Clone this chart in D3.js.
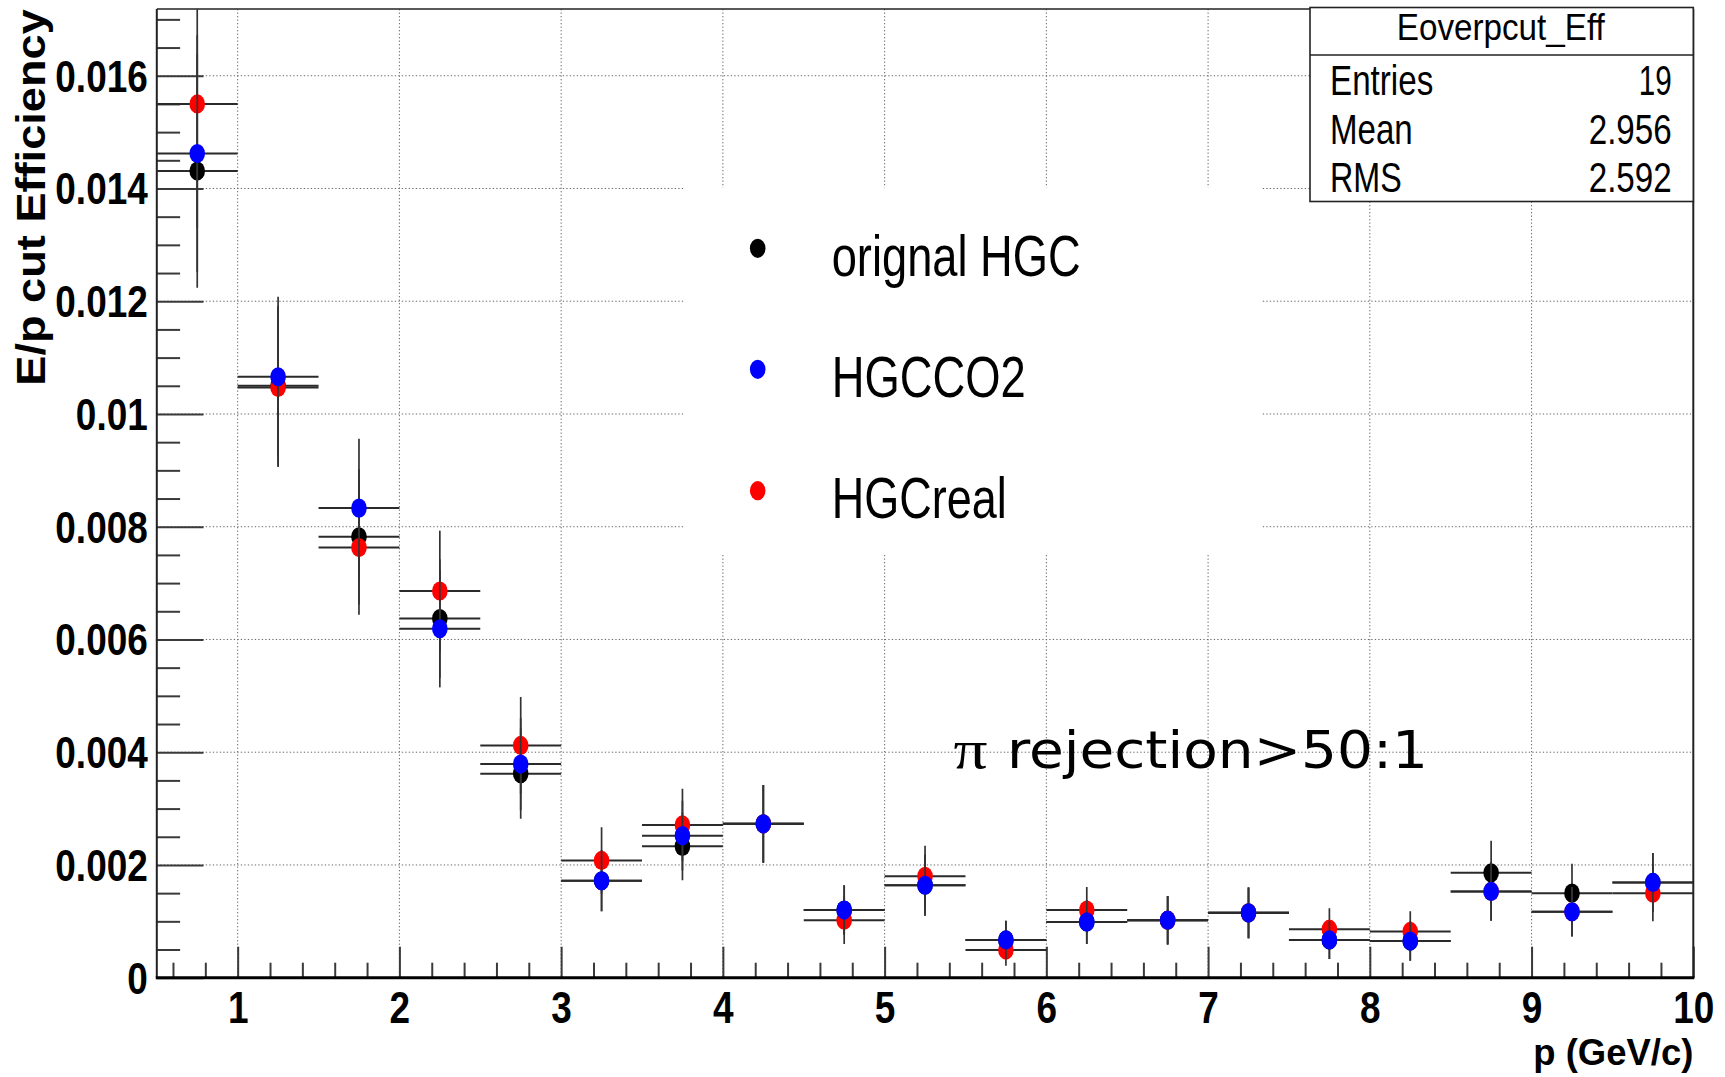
<!DOCTYPE html>
<html><head><meta charset="utf-8">
<script src="https://cdn.jsdelivr.net/npm/d3@7"></script>
<style>html,body{margin:0;padding:0;background:#fff;} svg{display:block;}</style>
</head><body>
<script>
// ---------------- DATA ----------------
const binCenters = [0.75,1.25,1.75,2.25,2.75,3.25,3.75,4.25,4.75,5.25,5.75,6.25,6.75,7.25,7.75,8.25,8.75,9.25,9.75];
const binWidth = 0.5;
const seriesNames = ["orignal HGC","HGCCO2","HGCreal"];
const seriesColors = ["#000000","#0000ff","#ff0000"];
const originalHGC    = [0.01431,0.01050,0.00782,0.00637,0.00362,0.00172,0.00233,0.00273,0.00120,0.00164,0.00067,0.00099,0.00102,0.00115,0.00067,0.00065,0.00186,0.00150,0.00169];
const originalHGCErr = [0.00207,0.00142,0.00120,0.00105,0.00080,0.00054,0.00060,0.00069,0.00044,0.00054,0.00034,0.00039,0.00043,0.00045,0.00034,0.00035,0.00057,0.00052,0.00052];
const hgcCO2         = [0.01462,0.01066,0.00833,0.00619,0.00379,0.00172,0.00252,0.00273,0.00120,0.00164,0.00067,0.00099,0.00102,0.00115,0.00067,0.00065,0.00153,0.00117,0.00169];
const hgcCO2Err      = [0.00210,0.00142,0.00123,0.00104,0.00082,0.00054,0.00062,0.00069,0.00044,0.00054,0.00034,0.00039,0.00043,0.00045,0.00034,0.00035,0.00052,0.00044,0.00052];
const hgcReal        = [0.01550,0.01047,0.00763,0.00686,0.00412,0.00208,0.00271,0.00273,0.00102,0.00180,0.00049,0.00120,0.00102,0.00115,0.00086,0.00082,0.00153,0.00117,0.00150];
const hgcRealErr     = [0.00220,0.00141,0.00119,0.00107,0.00086,0.00059,0.00064,0.00069,0.00042,0.00054,0.00028,0.00041,0.00043,0.00045,0.00037,0.00036,0.00052,0.00044,0.00050];
const xTickValues = [1,2,3,4,5,6,7,8,9,10];
const xTickLabels = ["1","2","3","4","5","6","7","8","9","10"];
const yTickValues = [0,0.002,0.004,0.006,0.008,0.010,0.012,0.014,0.016];
const yTickLabels = ["0","0.002","0.004","0.006","0.008","0.01","0.012","0.014","0.016"];
const xTitle = "p (GeV/c)";
const yTitle = "E/p cut Efficiency";
const statsTitle = "Eoverpcut_Eff";
const statsLabels = ["Entries","Mean","RMS"];
const statsValues = ["19","2.956","2.592"];
const annotationSymbol = "π";
const annotationText = "rejection>50:1";

// ---------------- LAYOUT ----------------
const W = 1725, H = 1077;
const L = 156.8, R = 1693.3, T = 9, B = 977.7;
const x = d3.scaleLinear().domain([0.5, 10]).range([L, R]);
const y = d3.scaleLinear().domain([0, 0.017184]).range([B, T]);
const SANS = "'Liberation Sans', Arial, Helvetica, sans-serif";

const svg = d3.select("body").append("svg").attr("width", W).attr("height", H);
svg.append("rect").attr("width", W).attr("height", H).attr("fill", "#fff");

function fit(sel, len) { return sel.attr("textLength", len).attr("lengthAdjust", "spacingAndGlyphs"); }
function squeeze(sel, k) {
  sel.each(function () {
    const len = this.getComputedTextLength();
    d3.select(this).attr("textLength", len * k).attr("lengthAdjust", "spacingAndGlyphs");
  });
}

// clip
svg.append("clipPath").attr("id", "plotclip").append("rect")
  .attr("x", L).attr("y", T).attr("width", R - L).attr("height", B - T);

// grid
const grid = svg.append("g").attr("stroke", "#666").attr("stroke-width", 1).attr("stroke-dasharray", "1.3,2.2");
grid.selectAll("line.h").data(yTickValues.filter(v => v > 0)).join("line")
  .attr("x1", L).attr("x2", R).attr("y1", d => y(d)).attr("y2", d => y(d));
grid.selectAll("line.v").data(xTickValues.filter(v => v < 10)).join("line")
  .attr("x1", d => x(d)).attr("x2", d => x(d)).attr("y1", T).attr("y2", B);

// legend background (covers grid)
svg.append("rect").attr("x", 685).attr("y", 187.5).attr("width", 577).attr("height", 365.5).attr("fill", "#fff");

// axes
const yMinorVals = d3.range(0, 0.01701, 0.0005).filter(v => Math.abs(v / 0.002 - Math.round(v / 0.002)) > 1e-6);
const xMinorVals = d3.range(0.6, 9.99, 0.2).filter(v => Math.abs(v - Math.round(v)) > 1e-6);

const yMinorAxis = svg.append("g").attr("transform", `translate(${L},0)`)
  .call(d3.axisLeft(y).tickValues(yMinorVals).tickSize(-23.3).tickFormat(""));
const yMajorAxis = svg.append("g").attr("transform", `translate(${L},0)`)
  .call(d3.axisLeft(y).tickValues(yTickValues).tickSize(-46.7).tickPadding(9)
    .tickFormat((d, i) => yTickLabels[i]));
const xMinorAxis = svg.append("g").attr("transform", `translate(0,${B})`)
  .call(d3.axisBottom(x).tickValues(xMinorVals).tickSize(-15).tickFormat(""));
const xMajorAxis = svg.append("g").attr("transform", `translate(0,${B})`)
  .call(d3.axisBottom(x).tickValues(xTickValues).tickSize(-31)
    .tickFormat((d, i) => xTickLabels[i]));

[yMinorAxis, yMajorAxis, xMinorAxis, xMajorAxis].forEach(g => {
  g.select(".domain").remove();
  g.selectAll(".tick line").attr("stroke", "#3a3a3a").attr("stroke-width", 2);
});
yMajorAxis.selectAll(".tick text")
  .attr("font-family", SANS).attr("font-weight", "bold").attr("font-size", 44)
  .attr("fill", "#000").attr("dy", null).attr("y", 15.5);
xMajorAxis.selectAll(".tick text")
  .attr("font-family", SANS).attr("font-weight", "bold").attr("font-size", 44)
  .attr("fill", "#000").attr("dy", null).attr("y", 45);
squeeze(yMajorAxis.selectAll(".tick text"), 0.84);
squeeze(xMajorAxis.selectAll(".tick text"), 0.84);

// frame
svg.append("line").attr("x1", L).attr("x2", R).attr("y1", T).attr("y2", T).attr("stroke", "#222").attr("stroke-width", 1.6);
svg.append("line").attr("x1", R).attr("x2", R).attr("y1", T).attr("y2", B).attr("stroke", "#222").attr("stroke-width", 2);
svg.append("line").attr("x1", L).attr("x2", L).attr("y1", T).attr("y2", B).attr("stroke", "#222").attr("stroke-width", 2);
svg.append("line").attr("x1", L - 1).attr("x2", R + 1).attr("y1", B).attr("y2", B).attr("stroke", "#000").attr("stroke-width", 3);

// axis titles
fit(svg.append("text").attr("transform", `translate(45,385.7) rotate(-90)`)
  .attr("font-family", SANS).attr("font-weight", "bold").attr("font-size", 41)
  .attr("fill", "#000").text(yTitle), 376.5);
fit(svg.append("text").attr("x", R).attr("y", 1065).attr("text-anchor", "end")
  .attr("font-family", SANS).attr("font-weight", "bold").attr("font-size", 37)
  .attr("fill", "#000").text(xTitle), 160);

// data
const series = [
  { vals: originalHGC, errs: originalHGCErr, color: seriesColors[0] },
  { vals: hgcReal, errs: hgcRealErr, color: seriesColors[2] },
  { vals: hgcCO2, errs: hgcCO2Err, color: seriesColors[1] }
];
const dataG = svg.append("g").attr("clip-path", "url(#plotclip)");
series.forEach(s => {
  const pts = binCenters.map((c, i) => ({ c, v: s.vals[i], e: s.errs[i] }));
  const g = dataG.append("g");
  g.selectAll("line.hx").data(pts).join("line")
    .attr("x1", d => x(d.c - binWidth / 2)).attr("x2", d => x(d.c + binWidth / 2))
    .attr("y1", d => y(d.v)).attr("y2", d => y(d.v))
    .attr("stroke", "#2a2a2a").attr("stroke-width", 2);
  g.selectAll("line.vy").data(pts).join("line")
    .attr("x1", d => x(d.c)).attr("x2", d => x(d.c))
    .attr("y1", d => y(d.v - d.e)).attr("y2", d => y(d.v + d.e))
    .attr("stroke", "#333").attr("stroke-width", 1.7);
  g.selectAll("ellipse").data(pts).join("ellipse")
    .attr("cx", d => x(d.c)).attr("cy", d => y(d.v))
    .attr("rx", 7.8).attr("ry", 9.6).attr("fill", s.color);
});

// legend
const legendY = [276, 396.7, 517.7];
const legendLen = [249, 194, 175];
const legendMarkerY = [248.3, 369.3, 490.7];
seriesNames.forEach((name, i) => {
  svg.append("ellipse").attr("cx", 757.7).attr("cy", legendMarkerY[i]).attr("rx", 7.8).attr("ry", 9.6)
    .attr("fill", seriesColors[i]);
  fit(svg.append("text").attr("x", 831.7).attr("y", legendY[i])
    .attr("font-family", SANS).attr("font-size", 57).attr("fill", "#000").text(name), legendLen[i]);
});

// annotation
fit(svg.append("text").attr("x", 953.6).attr("y", 767.5)
  .attr("font-family", "'Liberation Serif', 'Times New Roman', serif").attr("font-size", 54)
  .attr("fill", "#000").text(annotationSymbol), 34);
fit(svg.append("text").attr("x", 1007).attr("y", 767.5)
  .attr("font-family", "'DejaVu Sans', sans-serif").attr("font-size", 51)
  .attr("fill", "#000").text(annotationText), 421);

// stats box
svg.append("rect").attr("x", 1310).attr("y", 7.5).attr("width", 383.3).attr("height", 194)
  .attr("fill", "#fff").attr("stroke", "#222").attr("stroke-width", 1.6);
svg.append("line").attr("x1", 1310).attr("x2", 1693.3).attr("y1", 55).attr("y2", 55)
  .attr("stroke", "#222").attr("stroke-width", 1.6);
fit(svg.append("text").attr("x", 1500.8).attr("y", 40).attr("text-anchor", "middle")
  .attr("font-family", SANS).attr("font-size", 36).attr("fill", "#000").text(statsTitle), 208);
const statY = [95, 144.3, 191.7];
const statLabelLen = [103.3, 82.7, 71.7];
const statValueLen = [33, 83, 83];
statsLabels.forEach((lab, i) => {
  fit(svg.append("text").attr("x", 1330).attr("y", statY[i])
    .attr("font-family", SANS).attr("font-size", 42).attr("fill", "#000").text(lab), statLabelLen[i]);
  fit(svg.append("text").attr("x", 1671.7).attr("y", statY[i]).attr("text-anchor", "end")
    .attr("font-family", SANS).attr("font-size", 42).attr("fill", "#000").text(statsValues[i]), statValueLen[i]);
});
</script>
</body></html>
